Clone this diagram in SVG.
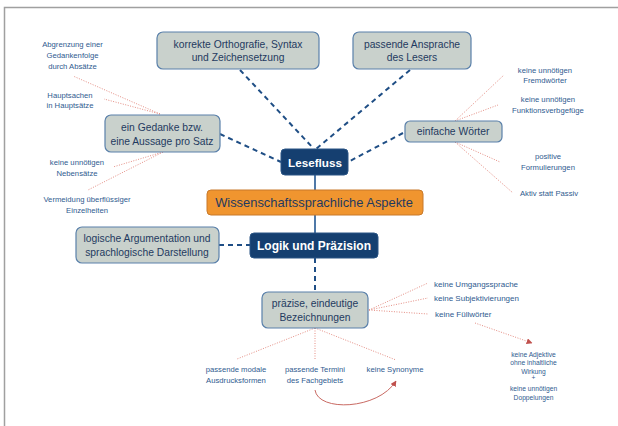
<svg xmlns="http://www.w3.org/2000/svg" width="618" height="426" viewBox="0 0 618 426">
<defs>
<style>
.box{fill:#C9D1CC;stroke:#5A80AA;stroke-width:1.2}
.dark{fill:#153F70;stroke:#2A5585;stroke-width:1}
.orange{fill:#F0952F;stroke:#C8792A;stroke-width:1}
.bt{font-family:"Liberation Sans",Arial,sans-serif;font-size:10.3px;fill:#1F3A60;text-anchor:middle}
.wt{font-family:"Liberation Sans",Arial,sans-serif;font-weight:bold;fill:#FFFFFF;text-anchor:middle}
.ot{font-family:"Liberation Sans",Arial,sans-serif;font-size:12.9px;fill:#1F3A60;text-anchor:middle}
.st{font-family:"Liberation Sans",Arial,sans-serif;font-size:7.7px;fill:#2F5B8F;text-anchor:middle}
.sl{font-family:"Liberation Sans",Arial,sans-serif;font-size:8px;fill:#2F5B8F}
.xs{font-family:"Liberation Sans",Arial,sans-serif;font-size:6.7px;fill:#2F5B8F;text-anchor:middle}
.dash{stroke:#1F4E85;stroke-width:2;stroke-dasharray:5 4;fill:none}
.solid{stroke:#4F79A8;stroke-width:2;fill:none}
.dot{stroke:#E58E84;stroke-width:1;stroke-dasharray:1 1.5;fill:none}
</style>
<marker id="ah" viewBox="0 0 10 10" refX="9" refY="5" markerWidth="6" markerHeight="6" orient="auto">
<path d="M0,0 L10,5 L0,10 z" fill="#C0504D"/>
</marker>
</defs>
<rect width="618" height="426" fill="#FFFFFF"/>
<path d="M4.5,426 V7.5 H618" fill="none" stroke="#A0A0A0" stroke-width="1.5"/>

<g id="connectors">
<line class="dash" x1="240" y1="70" x2="314" y2="149"/>
<line class="dash" x1="410" y1="70" x2="316" y2="149"/>
<line class="dash" x1="220" y1="134" x2="281" y2="162"/>
<line class="dash" x1="403" y1="133" x2="348" y2="162"/>
<line class="solid" x1="315" y1="175" x2="315" y2="190"/>
<line class="solid" x1="315" y1="215" x2="315" y2="233"/>
<line class="dash" x1="219" y1="245" x2="250" y2="245"/>
<line class="dash" x1="315" y1="258" x2="315" y2="292"/>
<line class="dot" x1="160" y1="114" x2="73" y2="76"/>
<line class="dot" x1="160" y1="114" x2="104" y2="99"/>
<line class="dot" x1="163" y1="152" x2="113" y2="167"/>
<line class="dot" x1="163" y1="152" x2="88" y2="190"/>
<line class="dot" x1="455" y1="121" x2="504" y2="75"/>
<line class="dot" x1="455" y1="121" x2="498" y2="105"/>
<line class="dot" x1="455" y1="142" x2="500" y2="162"/>
<line class="dot" x1="455" y1="142" x2="513" y2="193"/>
<line class="dot" x1="369" y1="310" x2="428" y2="283"/>
<line class="dot" x1="369" y1="310" x2="428" y2="298"/>
<line class="dot" x1="369" y1="310" x2="428" y2="314"/>
<line class="dot" x1="315" y1="328" x2="237" y2="359"/>
<line class="dot" x1="315" y1="328" x2="315" y2="359"/>
<line class="dot" x1="315" y1="328" x2="396" y2="360"/>
<line class="dot" x1="475" y1="323" x2="532" y2="343" stroke="#D0706A" marker-end="url(#ah)"/>
<path d="M315,390 C318,412 378,410 396,381" fill="none" stroke="#C96A63" stroke-width="1" marker-end="url(#ah)"/>
</g>

<g id="korrekte">
<rect class="box" x="157" y="32" width="162" height="37" rx="6"/>
<text class="bt" x="238" y="48">korrekte Orthografie, Syntax</text>
<text class="bt" x="238" y="61">und Zeichensetzung</text>
</g>
<g id="ansprache">
<rect class="box" x="353" y="32" width="118" height="37" rx="6"/>
<text class="bt" x="412" y="48">passende Ansprache</text>
<text class="bt" x="412" y="61">des Lesers</text>
</g>
<g id="gedanke">
<rect class="box" x="105" y="115" width="115" height="37" rx="6"/>
<text class="bt" x="162" y="131">ein Gedanke bzw.</text>
<text class="bt" x="162" y="145">eine Aussage pro Satz</text>
</g>
<g id="einfache">
<rect class="box" x="405" y="121" width="97" height="21" rx="5"/>
<text class="bt" x="453" y="135">einfache Wörter</text>
</g>
<g id="lesefluss">
<rect class="dark" x="281" y="149" width="67" height="26" rx="4"/>
<text class="wt" x="315" y="166.5" font-size="11.7">Lesefluss</text>
</g>
<g id="aspekte">
<rect class="orange" x="207" y="190" width="216" height="25" rx="4"/>
<text class="ot" x="314" y="207">Wissenschaftssprachliche Aspekte</text>
</g>
<g id="logik">
<rect class="dark" x="250" y="233" width="128" height="25" rx="4"/>
<text class="wt" x="314" y="250" font-size="12">Logik und Präzision</text>
</g>
<g id="logische">
<rect class="box" x="76" y="227" width="143" height="36" rx="6"/>
<text class="bt" x="147" y="242">logische Argumentation und</text>
<text class="bt" x="147" y="256">sprachlogische Darstellung</text>
</g>
<g id="praezise">
<rect class="box" x="262" y="292" width="106" height="36" rx="6"/>
<text class="bt" x="315" y="307">präzise, eindeutige</text>
<text class="bt" x="315" y="321">Bezeichnungen</text>
</g>

<g id="abgrenzung">
<text class="st" x="72.5" y="47">Abgrenzung einer</text>
<text class="st" x="72.5" y="58">Gedankenfolge</text>
<text class="st" x="72.5" y="69">durch Absätze</text>
</g>
<g id="hauptsachen">
<text class="st" x="70" y="98">Hauptsachen</text>
<text class="st" x="70" y="108">in Hauptsätze</text>
</g>
<g id="nebensaetze">
<text class="st" x="77" y="165">keine unnötigen</text>
<text class="st" x="77" y="176">Nebensätze</text>
</g>
<g id="vermeidung">
<text class="st" x="87" y="202">Vermeidung überflüssiger</text>
<text class="st" x="87" y="213">Einzelheiten</text>
</g>
<g id="fremdwoerter">
<text class="st" x="545" y="73">keine unnötigen</text>
<text class="st" x="545" y="83">Fremdwörter</text>
</g>
<g id="funktionsverb">
<text class="st" x="548" y="102">keine unnötigen</text>
<text class="st" x="548" y="113">Funktionsverbgefüge</text>
</g>
<g id="positive">
<text class="st" x="548" y="159">positive</text>
<text class="st" x="548" y="170">Formulierungen</text>
</g>
<g id="aktiv">
<text class="st" x="549" y="196">Aktiv statt Passiv</text>
</g>
<g id="umgang">
<text class="sl" x="434" y="287">keine Umgangssprache</text>
</g>
<g id="subjektiv">
<text class="sl" x="434" y="301">keine Subjektivierungen</text>
</g>
<g id="fuellwoerter">
<text class="sl" x="435" y="317">keine Füllwörter</text>
</g>
<g id="adjektive">
<text class="xs" x="533.5" y="356.5">keine Adjektive</text>
<text class="xs" x="533.5" y="364.5">ohne inhaltliche</text>
<text class="xs" x="533.5" y="373.5">Wirkung</text>
<text class="xs" x="533.5" y="380">+</text>
<text class="xs" x="533.5" y="390.5">keine unnötigen</text>
<text class="xs" x="533.5" y="399.5">Doppelungen</text>
</g>
<g id="modale">
<text class="st" x="236" y="372" font-size="7.9">passende modale</text>
<text class="st" x="236" y="383" font-size="7.9">Ausdrucksformen</text>
</g>
<g id="termini">
<text class="st" x="315" y="372" font-size="7.9">passende Termini</text>
<text class="st" x="315" y="383" font-size="7.9">des Fachgebiets</text>
</g>
<g id="synonyme">
<text class="st" x="395" y="372" font-size="7.9">keine Synonyme</text>
</g>
</svg>
